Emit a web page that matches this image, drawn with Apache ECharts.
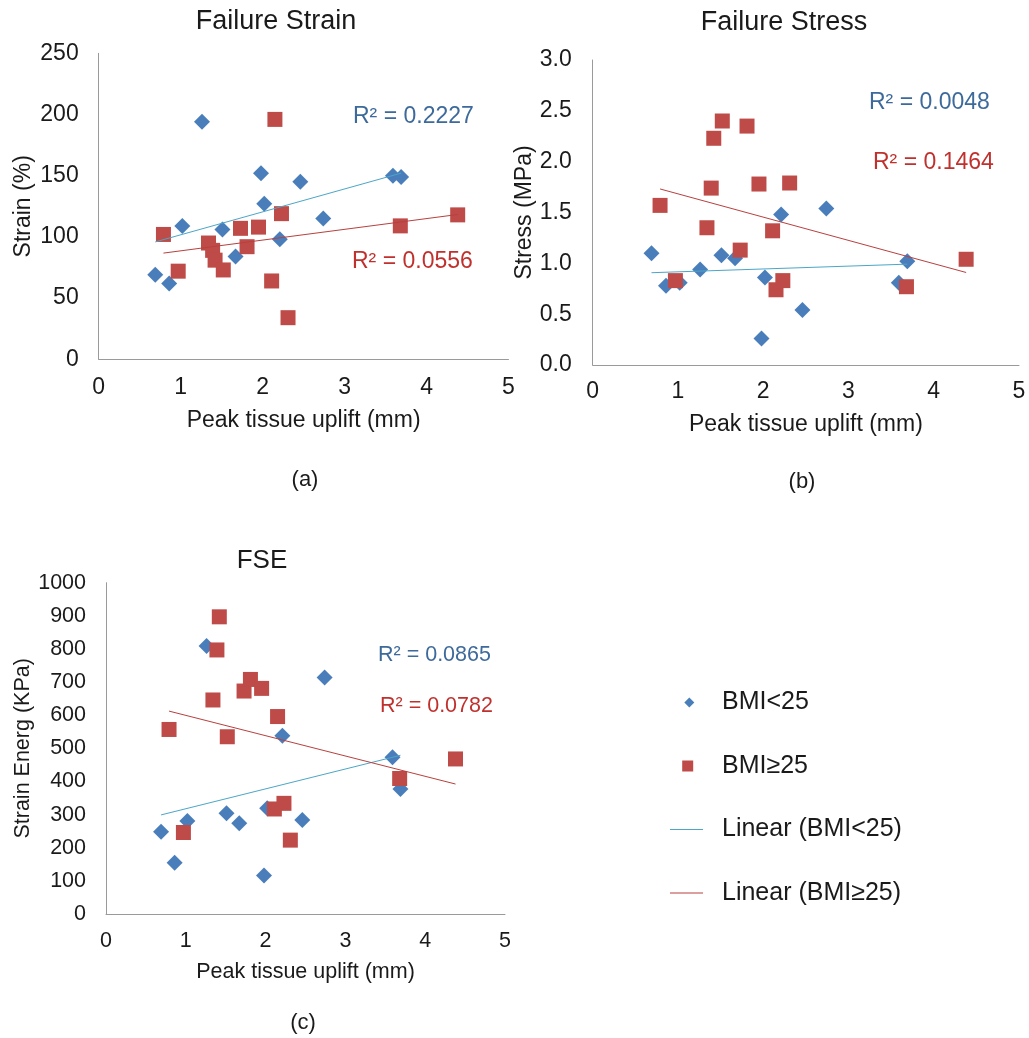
<!DOCTYPE html>
<html>
<head>
<meta charset="utf-8">
<title>Peak tissue uplift vs failure properties</title>
<script src="https://cdn.jsdelivr.net/npm/echarts@6/dist/echarts.min.js"></script>
<style>
  html, body { margin: 0; padding: 0; background: #ffffff; }
  #chart { width: 1029px; height: 1038px; }
</style>
</head>
<body>
<div id="chart"></div>
<script>
// Peak tissue uplift (mm) for each subject, split by BMI group
const upliftLow  = [0.69, 0.86, 1.02, 1.26, 1.51, 1.67, 1.98, 2.02, 2.21, 2.46, 2.74, 3.59, 3.69];
const upliftHigh = [0.79, 0.97, 1.34, 1.39, 1.42, 1.52, 1.73, 1.81, 1.95, 2.11, 2.15, 2.23, 2.31, 3.68, 4.38];

// Failure strain (%)
const strainLow  = [69, 62, 109, 194, 106, 84, 152, 127, 98, 145, 115, 150, 149];
const strainHigh = [102, 72, 95, 89, 81, 73, 107, 92, 108, 64, 196, 119, 34, 109, 118];

// Failure stress (MPa)
const stressLow  = [1.10, 0.78, 0.81, 0.94, 1.08, 1.05, 0.26, 0.86, 1.48, 0.54, 1.54, 0.81, 1.02];
const stressHigh = [1.57, 0.83, 1.35, 1.74, 2.23, 2.40, 1.13, 2.35, 1.78, 1.32, 0.74, 0.83, 1.79, 0.77, 1.04];

// Failure strain energy (KPa)
const fseLow  = [248, 155, 281, 809, 304, 274, 116, 319, 538, 284, 714, 473, 377];
const fseHigh = [557, 246, 646, 797, 897, 535, 673, 708, 681, 317, 596, 334, 223, 409, 468];

// Text
const panelTitles = ['Failure Strain', 'Failure Stress', 'FSE'];
const panelTags   = ['(a)', '(b)', '(c)'];
const yNames      = ['Strain (%)', 'Stress (MPa)', 'Strain Energ (KPa)'];
const xName       = 'Peak tissue uplift (mm)';
const r2Low       = ['R\u00B2 = 0.2227', 'R\u00B2 = 0.0048', 'R\u00B2 = 0.0865'];
const r2High      = ['R\u00B2 = 0.0556', 'R\u00B2 = 0.1464', 'R\u00B2 = 0.0782'];
const seriesNames = ['BMI<25', 'BMI\u226525', 'Linear (BMI<25)', 'Linear (BMI\u226525)'];

// Axis ranges
const xRange = { min: 0, max: 5, interval: 1 };
const yRanges = [
  { min: 0, max: 250, interval: 50 },
  { min: 0, max: 3, interval: 0.5 },
  { min: 0, max: 1000, interval: 100 }
];

const FONT = "'Liberation Sans', Arial, Helvetica, sans-serif";
const COL_LOW = '#4A7EBB';
const COL_HIGH = '#BE4B48';
const COL_TREND_LOW = '#4BA6C8';
const COL_TREND_HIGH = '#B8403E';
const COL_R2_LOW = '#3D6A9B';
const COL_R2_HIGH = '#C0312E';
const TEXT = '#1a1a1a';
const AXIS = '#9a9a9a';

// Plot areas and text placement for the three panels
const layout = [
  { grid: { left: 98.7, top: 53.3, width: 409.8, height: 306 }, font: 23, titleFont: 27,
    title: [276, 22], tag: [305, 480], r2Low: [353, 117], r2High: [352, 262],
    xLabelMargin: 17, yLabelMargin: 20, xNameGap: 50, yNameGap: 64 },
  { grid: { left: 592.7, top: 60, width: 426.3, height: 305 }, font: 23, titleFont: 27,
    title: [784, 23], tag: [802, 482], r2Low: [869, 103], r2High: [873, 163],
    xLabelMargin: 15, yLabelMargin: 21, xNameGap: 48, yNameGap: 50 },
  { grid: { left: 106, top: 582.7, width: 399, height: 331.3 }, font: 21.5, titleFont: 26,
    title: [262, 561], tag: [303, 1023], r2Low: [378, 655], r2High: [380, 706],
    xLabelMargin: 16, yLabelMargin: 20, xNameGap: 47, yNameGap: 71 }
];

// Least-squares trend line, drawn across the range of the group's x values
function trendLine(xs, ys) {
  const n = xs.length;
  let sx = 0, sy = 0;
  for (let i = 0; i < n; i++) { sx += xs[i]; sy += ys[i]; }
  const mx = sx / n, my = sy / n;
  let sxy = 0, sxx = 0;
  for (let i = 0; i < n; i++) {
    sxy += (xs[i] - mx) * (ys[i] - my);
    sxx += (xs[i] - mx) * (xs[i] - mx);
  }
  const b = sxy / sxx, a = my - b * mx;
  const x0 = Math.min.apply(null, xs), x1 = Math.max.apply(null, xs);
  return [[x0, a + b * x0], [x1, a + b * x1]];
}

function pairs(xs, ys) { return xs.map((x, i) => [x, ys[i]]); }

const panels = [
  [strainLow, strainHigh],
  [stressLow, stressHigh],
  [fseLow, fseHigh]
];

const grids = [], xAxes = [], yAxes = [], series = [], graphics = [];

panels.forEach((p, k) => {
  const L = layout[k];
  grids.push(Object.assign({ containLabel: false }, L.grid));

  xAxes.push({
    gridIndex: k, type: 'value',
    min: xRange.min, max: xRange.max, interval: xRange.interval,
    axisLine: { show: true, lineStyle: { color: AXIS, width: 1 } },
    axisTick: { show: false },
    splitLine: { show: false },
    axisLabel: { fontSize: L.font, color: TEXT, fontFamily: FONT, margin: L.xLabelMargin },
    name: xName, nameLocation: 'middle', nameGap: L.xNameGap,
    nameTextStyle: { fontSize: L.font, color: TEXT, fontFamily: FONT }
  });

  const yr = yRanges[k];
  yAxes.push({
    gridIndex: k, type: 'value',
    min: yr.min, max: yr.max, interval: yr.interval,
    axisLine: { show: true, lineStyle: { color: AXIS, width: 1 } },
    axisTick: { show: false },
    splitLine: { show: false },
    axisLabel: {
      fontSize: L.font, color: TEXT, fontFamily: FONT, margin: L.yLabelMargin,
      formatter: k === 1 ? (v) => v.toFixed(1) : (v) => String(v)
    },
    name: yNames[k], nameLocation: 'middle', nameGap: L.yNameGap, nameRotate: 90,
    nameTextStyle: { fontSize: L.font, color: TEXT, fontFamily: FONT }
  });

  series.push({
    name: seriesNames[0], type: 'scatter', xAxisIndex: k, yAxisIndex: k,
    symbol: 'diamond', symbolSize: 16, z: 2,
    itemStyle: { color: COL_LOW, opacity: 1 },
    data: pairs(upliftLow, p[0])
  });
  series.push({
    name: seriesNames[1], type: 'scatter', xAxisIndex: k, yAxisIndex: k,
    symbol: 'rect', symbolSize: 15, z: 3,
    itemStyle: { color: COL_HIGH, opacity: 1 },
    data: pairs(upliftHigh, p[1])
  });
  series.push({
    name: seriesNames[2], type: 'line', xAxisIndex: k, yAxisIndex: k,
    showSymbol: false, symbol: 'none', z: 4, silent: true,
    lineStyle: { color: COL_TREND_LOW, width: 1 }, itemStyle: { color: COL_TREND_LOW },
    data: trendLine(upliftLow, p[0])
  });
  series.push({
    name: seriesNames[3], type: 'line', xAxisIndex: k, yAxisIndex: k,
    showSymbol: false, symbol: 'none', z: 4, silent: true,
    lineStyle: { color: COL_TREND_HIGH, width: 1 }, itemStyle: { color: COL_TREND_HIGH },
    data: trendLine(upliftHigh, p[1])
  });

  graphics.push({
    type: 'text', x: L.title[0], y: L.title[1],
    style: { text: panelTitles[k], fill: TEXT, font: L.titleFont + 'px ' + FONT,
             align: 'center', verticalAlign: 'middle', textAlign: 'center', textVerticalAlign: 'middle' }
  });
  graphics.push({
    type: 'text', x: L.tag[0], y: L.tag[1],
    style: { text: panelTags[k], fill: TEXT, font: '22px ' + FONT,
             align: 'center', verticalAlign: 'middle', textAlign: 'center', textVerticalAlign: 'middle' }
  });
  graphics.push({
    type: 'text', x: L.r2Low[0], y: L.r2Low[1],
    style: { text: r2Low[k], fill: COL_R2_LOW, font: L.font + 'px ' + FONT,
             align: 'left', verticalAlign: 'middle', textAlign: 'left', textVerticalAlign: 'middle' }
  });
  graphics.push({
    type: 'text', x: L.r2High[0], y: L.r2High[1],
    style: { text: r2High[k], fill: COL_R2_HIGH, font: L.font + 'px ' + FONT,
             align: 'left', verticalAlign: 'middle', textAlign: 'left', textVerticalAlign: 'middle' }
  });
});

// Legend icons: small marker / short line placed inside a 47x14 icon box
const ICON_BOX = 'M0,0 M47,14 ';
const legendIcons = [
  'path://' + ICON_BOX + 'M19.3,2 L24.3,7 L19.3,12 L14.3,7 Z',
  'path://' + ICON_BOX + 'M12.2,1.5 L23.2,1.5 L23.2,12.5 L12.2,12.5 Z',
  'path://' + ICON_BOX + 'M0,6.5 L33,6.5 L33,7.5 L0,7.5 Z',
  'path://' + ICON_BOX + 'M0,6.5 L33,6.5 L33,7.5 L0,7.5 Z'
];

const chart = echarts.init(document.getElementById('chart'), null, { renderer: 'canvas' });
chart.setOption({
  backgroundColor: '#ffffff',
  animation: false,
  textStyle: { fontFamily: FONT },
  grid: grids,
  xAxis: xAxes,
  yAxis: yAxes,
  legend: {
    orient: 'vertical', left: 670, top: 690, padding: 0,
    itemWidth: 47, itemHeight: 14, itemGap: 38.5,
    textStyle: { fontSize: 25, color: TEXT, fontFamily: FONT },
    data: seriesNames.map((n, i) => ({
      name: n, icon: legendIcons[i],
      itemStyle: { borderWidth: 0, opacity: 1 }
    }))
  },
  graphic: graphics,
  series: series
});
</script>
</body>
</html>
